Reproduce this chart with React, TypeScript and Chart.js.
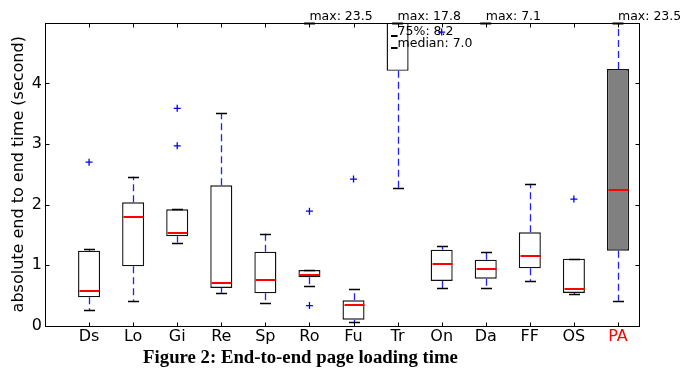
import React, { useEffect, useRef } from 'react';
import { Chart, registerables } from 'chart.js';

Chart.register(...registerables);

const categories = ['Ds', 'Lo', 'Gi', 'Re', 'Sp', 'Ro', 'Fu', 'Tr', 'On', 'Da', 'FF', 'OS', 'PA'];
const q1 = [0.466, 0.978, 1.474, 0.62, 0.532, 0.796, 0.096, 4.21, 0.736, 0.774, 0.945, 0.537, 1.236];
const q3 = [1.236, 2.036, 1.92, 2.317, 1.22, 0.917, 0.416, 8.2, 1.253, 1.088, 1.54, 1.104, 4.24];
const medians = [0.576, 1.79, 1.535, 0.708, 0.747, 0.835, 0.339, 7.0, 1.01, 0.934, 1.154, 0.608, 2.24];
const whiskerLow = [0.25, 0.41, 1.37, 0.54, 0.377, 0.653, 0.053, 2.27, 0.615, 0.615, 0.73, 0.52, 0.41];
const whiskerHigh = [1.264, 2.46, 1.92, 3.51, 1.52, 0.917, 0.603, 17.8, 1.31, 1.215, 2.344, 1.104, 23.5];
const outlierCategory = ['Ds', 'Gi', 'Gi', 'Ro', 'Ro', 'Fu', 'On', 'OS'];
const outlierValue = [2.7, 3.59, 2.97, 1.89, 0.33, 2.42, 4.85, 2.09];
const maxLabelCategory = ['Ro', 'Tr', 'Da', 'PA'];
const maxLabelValue = [23.5, 17.8, 7.1, 23.5];
const yTicks = [0, 1, 2, 3, 4];
const highlightCategory = 'PA';

const FONT = '"DejaVu Sans", sans-serif';

const boxExtras = {
  id: 'boxExtras',
  afterDatasetDraw(chart: any, args: any) {
    if (args.index !== 0) return;
    const { ctx, chartArea: a, scales } = chart;
    const xs = scales.x;
    const ys = scales.y;
    const unit = xs.getPixelForValue(1) - xs.getPixelForValue(0);
    const boxHalf = unit * 0.25;
    const capHalf = unit * 0.125;
    ctx.save();
    ctx.beginPath();
    ctx.rect(a.left, a.top, a.right - a.left, a.bottom - a.top);
    ctx.clip();
    categories.forEach((_, i) => {
      const px = Math.round(xs.getPixelForValue(i + 1)) + 0.5;
      const yq1 = ys.getPixelForValue(q1[i]);
      const yq3 = ys.getPixelForValue(q3[i]);
      const yLo = ys.getPixelForValue(whiskerLow[i]);
      const yHi = ys.getPixelForValue(whiskerHigh[i]);
      const yMed = Math.round(ys.getPixelForValue(medians[i]));
      ctx.strokeStyle = '#1f1fff';
      ctx.lineWidth = 1.3;
      ctx.setLineDash([7, 4]);
      ctx.beginPath();
      ctx.moveTo(px, yq1);
      ctx.lineTo(px, yLo);
      ctx.moveTo(px, yq3);
      ctx.lineTo(px, yHi);
      ctx.stroke();
      ctx.setLineDash([]);
      ctx.strokeStyle = '#000';
      ctx.lineWidth = 1.3;
      ctx.beginPath();
      const rl = Math.round(yLo) + 0.5;
      const rh = Math.round(yHi) + 0.5;
      ctx.moveTo(px - capHalf, rl);
      ctx.lineTo(px + capHalf, rl);
      ctx.moveTo(px - capHalf, rh);
      ctx.lineTo(px + capHalf, rh);
      ctx.stroke();
      ctx.strokeStyle = '#ff0000';
      ctx.lineWidth = 2;
      ctx.beginPath();
      ctx.moveTo(px - boxHalf + 1, yMed);
      ctx.lineTo(px + boxHalf - 1, yMed);
      ctx.stroke();
    });
    ctx.restore();
  },
  afterDraw(chart: any) {
    const { ctx, chartArea: a, scales } = chart;
    const xs = scales.x;
    const ys = scales.y;
    const unit = xs.getPixelForValue(1) - xs.getPixelForValue(0);
    const capHalf = unit * 0.125;
    const L = Math.round(a.left) + 0.5;
    const R = Math.round(a.right) - 0.5;
    const T = Math.round(a.top) + 0.5;
    const B = Math.round(a.bottom) + 0.5;
    ctx.save();
    ctx.strokeStyle = '#000';
    ctx.lineWidth = 1;
    ctx.strokeRect(L, T, R - L, B - T);
    ctx.beginPath();
    categories.forEach((_, i) => {
      const px = Math.round(xs.getPixelForValue(i + 1)) + 0.5;
      ctx.moveTo(px, B);
      ctx.lineTo(px, B - 4);
      ctx.moveTo(px, T);
      ctx.lineTo(px, T + 4);
    });
    yTicks.forEach((v) => {
      const py = Math.round(ys.getPixelForValue(v)) + 0.5;
      ctx.moveTo(L, py);
      ctx.lineTo(L + 4, py);
      ctx.moveTo(R, py);
      ctx.lineTo(R - 4, py);
    });
    ctx.stroke();

    // max annotations
    ctx.font = '12.5px ' + FONT;
    ctx.fillStyle = '#000';
    ctx.textAlign = 'left';
    ctx.textBaseline = 'alphabetic';
    maxLabelCategory.forEach((c, k) => {
      const pos = categories.indexOf(c) + 1;
      const px = xs.getPixelForValue(pos);
      ctx.fillText('max: ' + maxLabelValue[k], px, a.top - 3);
      ctx.lineWidth = 2;
      ctx.beginPath();
      ctx.moveTo(px - capHalf, a.top + 0.5);
      ctx.lineTo(px + capHalf, a.top + 0.5);
      ctx.stroke();
    });
    // Tr detail labels
    const ti = categories.indexOf('Tr');
    const tpx = xs.getPixelForValue(ti + 1);
    const labels = ['75%: ' + q3[ti].toFixed(1), 'median: ' + medians[ti].toFixed(1)];
    const labelVals = [4.8, 4.61];
    labels.forEach((t, k) => {
      const py = ys.getPixelForValue(labelVals[k]);
      ctx.fillText(t, tpx, py);
      ctx.lineWidth = 2;
      ctx.beginPath();
      ctx.moveTo(tpx - capHalf * 1.2, Math.round(py) + 1);
      ctx.lineTo(tpx, Math.round(py) + 1);
      ctx.stroke();
    });

    // caption
    ctx.font = 'bold 18.75px "Liberation Serif", serif';
    ctx.textAlign = 'center';
    ctx.fillText('Figure 2: End-to-end page loading time', 300.5, 363);
    ctx.restore();
  },
};

export default function App() {
  const ref = useRef<HTMLCanvasElement | null>(null);
  useEffect(() => {
    if (!ref.current) return;
    const chart = new Chart(ref.current, {
      type: 'bar',
      data: {
        datasets: [
          {
            type: 'bar',
            data: categories.map((_, i) => ({ x: i + 1, y: [q1[i], q3[i]] })) as any,
            backgroundColor: categories.map((c) => (c === highlightCategory ? '#808080' : '#ffffff')),
            borderColor: '#111',
            borderWidth: 1.4,
            borderSkipped: false,
            categoryPercentage: 1,
            barPercentage: 0.5,
            clip: 0,
          } as any,
          {
            type: 'scatter',
            data: outlierCategory.map((c, k) => ({ x: categories.indexOf(c) + 1, y: outlierValue[k] })),
            pointStyle: 'cross',
            radius: 3.5,
            borderColor: '#0000ff',
            borderWidth: 1.3,
            backgroundColor: '#0000ff',
            clip: 0,
          } as any,
        ],
      },
      options: {
        animation: false,
        responsive: false,
        events: [],
        layout: { padding: { left: 0, right: 45, top: 23, bottom: 21.5 } },
        plugins: { legend: { display: false }, tooltip: { enabled: false }, title: { display: false } },
        scales: {
          x: {
            type: 'linear',
            min: 0,
            max: 13.5,
            offset: false,
            afterBuildTicks: (s: any) => {
              s.ticks = categories.map((_, i) => ({ value: i + 1 }));
            },
            afterFit: (s: any) => {
              s.height = 21;
            },
            ticks: {
              autoSkip: false,
              maxRotation: 0,
              padding: 2,
              font: { family: FONT, size: 16 },
              color: (c: any) => (categories[Math.round(c.tick.value) - 1] === highlightCategory ? '#ff0000' : '#000'),
              callback: (v: any) => categories[Math.round(v) - 1] ?? '',
            },
            grid: { display: false, drawTicks: false },
            border: { display: false },
          },
          y: {
            type: 'linear',
            min: 0,
            max: 5,
            afterBuildTicks: (s: any) => {
              s.ticks = yTicks.map((v) => ({ value: v }));
            },
            afterFit: (s: any) => {
              s.width = 45;
            },
            ticks: { padding: 3, font: { family: FONT, size: 16 }, color: '#000' },
            grid: { display: false, drawTicks: false },
            border: { display: false },
            title: {
              display: true,
              text: 'absolute end to end time (second)',
              font: { family: FONT, size: 16 },
              color: '#000',
              padding: { top: 9, bottom: 0 },
            },
          },
        },
      } as any,
      plugins: [boxExtras],
    });
    return () => chart.destroy();
  }, []);
  return (
    <div style={{ position: 'absolute', left: 0, top: 0, width: 685, height: 368, background: '#fff' }}>
      <canvas ref={ref} width={685} height={368} style={{ width: 685, height: 368 }} />
    </div>
  );
}
